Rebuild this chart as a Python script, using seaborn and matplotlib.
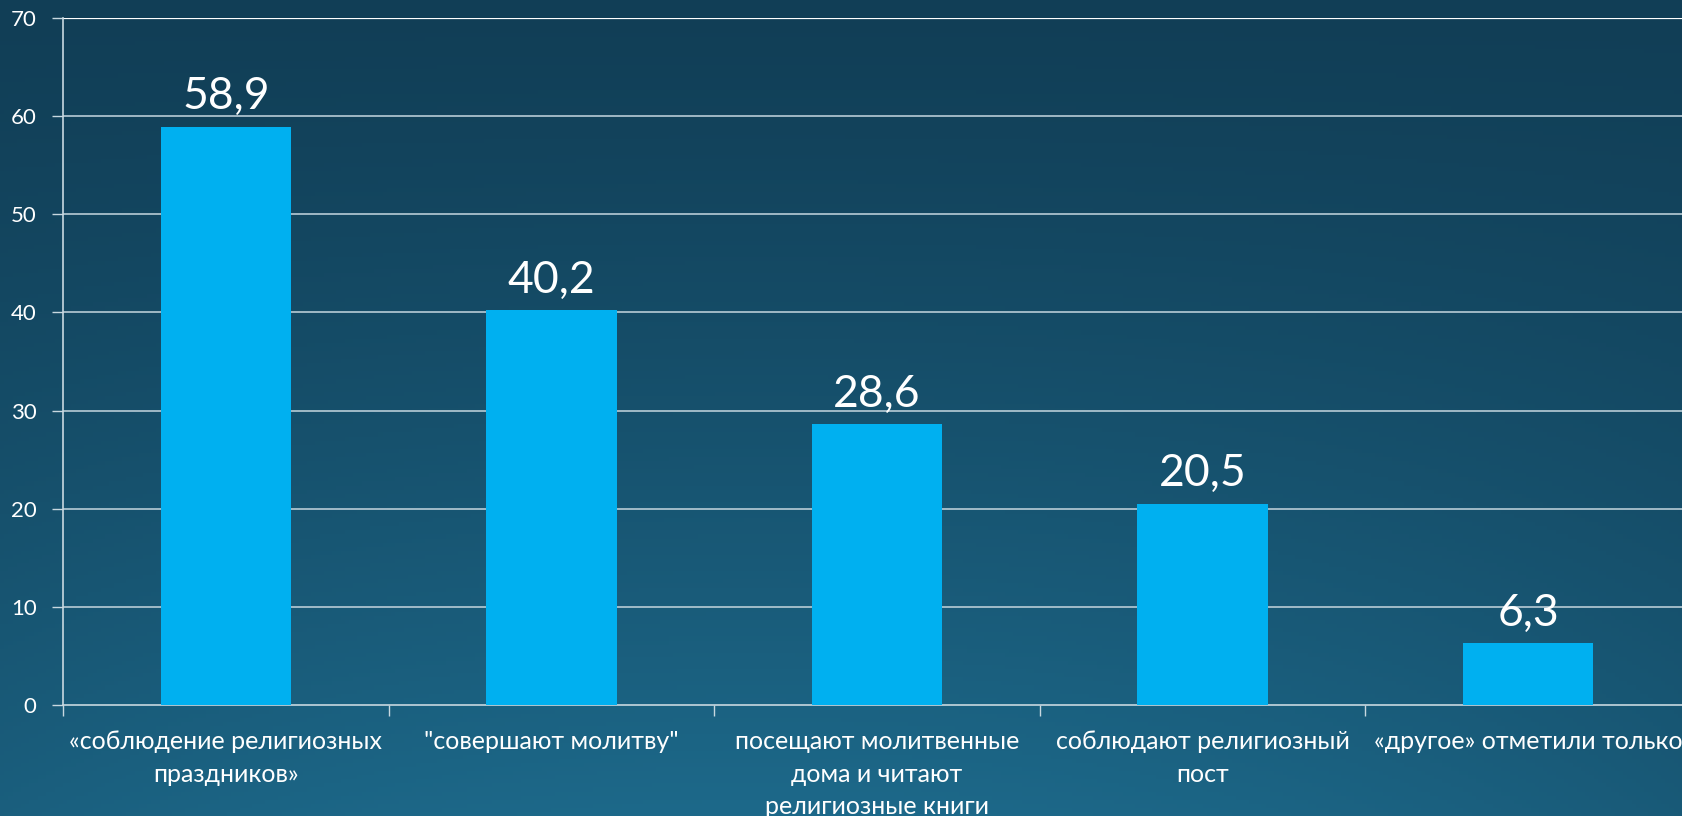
import numpy as np
import pandas as pd
import matplotlib
matplotlib.use("Agg")
import matplotlib.pyplot as plt
import seaborn as sns

# Data
categories = [
    "«соблюдение религиозных\nпраздников»",
    "\"совершают молитву\"",
    "посещают молитвенные\nдома и читают\nрелигиозные книги",
    "соблюдают религиозный\nпост",
    "«другое» отметили только",
]
values = [58.9, 40.2, 28.6, 20.5, 6.3]
value_labels = ["58,9", "40,2", "28,6", "20,5", "6,3"]
y_ticks = [0, 10, 20, 30, 40, 50, 60, 70]

df = pd.DataFrame({"cat": categories, "val": values})

sns.set_theme(style="white")
plt.rcParams["font.family"] = ["Lato", "DejaVu Sans"]

W, H = 1682, 816
fig = plt.figure(figsize=(W / 100, H / 100), dpi=100)

# Background gradient
bg = fig.add_axes([0, 0, 1, 1], zorder=-10)
yy, xx = np.mgrid[0:1:200j, 0:1:400j]
top = np.array([0x11, 0x3E, 0x56]) / 255
bottom = np.array([0x1D, 0x69, 0x8A]) / 255
t = yy ** 1.2
edge = 1 - 0.35 * (np.abs(xx - 0.45) / 0.55) ** 2
t = t * edge
img = top[None, None, :] * (1 - t[..., None]) + bottom[None, None, :] * t[..., None]
bg.imshow(img, aspect="auto", extent=[0, 1, 0, 1], origin="upper")
bg.axis("off")

# Main axes (extends slightly beyond the right edge, like the original)
left, right_px = 63, 1691
y0_px, y70_px = 705, 18
ax = fig.add_axes([left / W, (H - y0_px) / H, (right_px - left) / W, (y0_px - y70_px) / H])
ax.patch.set_alpha(0)

sns.barplot(data=df, x="cat", y="val", color="#00B0F0", width=0.4, saturation=1,
            edgecolor="none", linewidth=0, ax=ax, zorder=3)

ax.set_ylim(0, 70)
ax.set_xlim(-0.5, 4.5)
ax.set_yticks(y_ticks)
ax.set_yticklabels([str(v) for v in y_ticks], color="white", fontsize=16)
ax.set_xlabel("")
ax.set_ylabel("")
ax.tick_params(axis="x", length=0, labelsize=18, labelcolor="white", pad=18)
for lbl in ax.get_xticklabels():
    lbl.set_linespacing(1.5)
ax.tick_params(axis="y", length=8, width=1, color="#C8D8E0", direction="out", pad=11, left=True)
ax.set_xticks(np.arange(-0.5, 5.0, 1.0), minor=True)
ax.tick_params(axis="x", which="minor", length=8, width=1, color="#C8D8E0", direction="out", bottom=True)

for y in y_ticks[1:-1]:
    ax.axhline(y, color="#B8CCD6", lw=1.2, zorder=1)
ax.axhline(70, color="white", lw=1.6, zorder=1)

for s in ["top", "right"]:
    ax.spines[s].set_visible(False)
ax.spines["left"].set_color("#C8D8E0")
ax.spines["bottom"].set_color("#C8D8E0")
ax.spines["left"].set_linewidth(1.2)
ax.spines["bottom"].set_linewidth(1.2)

for i, (v, lab) in enumerate(zip(values, value_labels)):
    ax.annotate(lab, (i, v), xytext=(0, 7), textcoords="offset points",
                ha="center", va="bottom", color="white", fontsize=32, zorder=4)

fig.savefig("out.png", dpi=100)
